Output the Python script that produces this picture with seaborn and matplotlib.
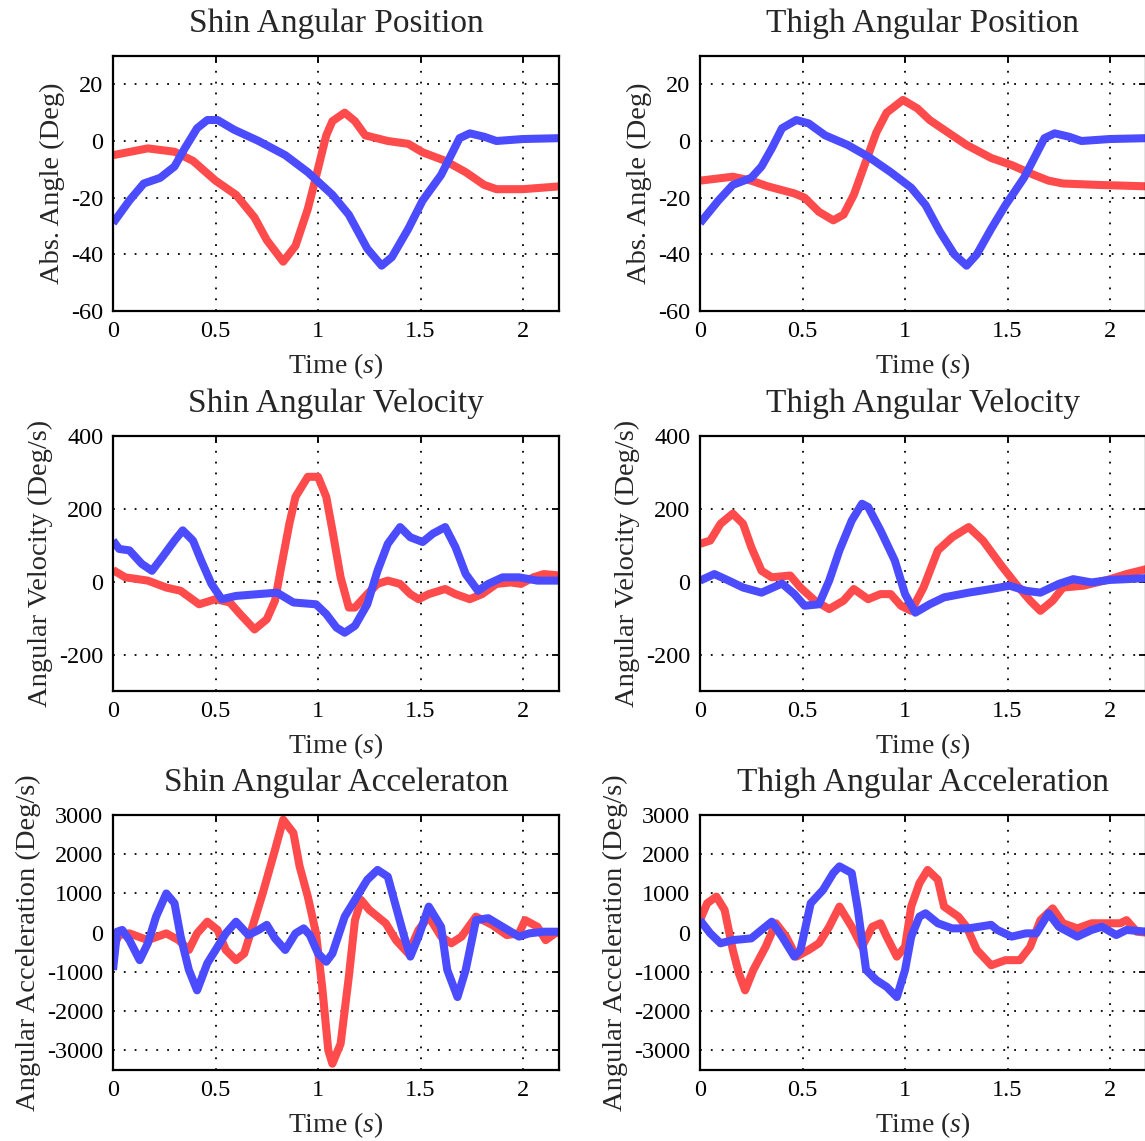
import matplotlib
matplotlib.use("Agg")
import matplotlib.pyplot as plt
import seaborn as sns
import pandas as pd

# ---- Shin angular position (deg) ----
shin_pos_red_t = [0.00, 0.17, 0.30, 0.39, 0.50, 0.60, 0.69, 0.75, 0.83, 0.89, 0.95, 0.98, 1.04, 1.07,
                  1.13, 1.18, 1.23, 1.34, 1.44, 1.51, 1.62, 1.72, 1.81, 1.87, 2.00, 2.18]
shin_pos_red = [-5, -2.6, -3.8, -7, -14, -19, -27, -35, -42.6, -37, -24, -15.5, 2, 7,
                10, 7, 2, 0, -1, -4, -7, -11, -15.5, -17, -17, -16]
shin_pos_blue_t = [0.00, 0.08, 0.15, 0.23, 0.30, 0.35, 0.41, 0.46, 0.51, 0.59, 0.71, 0.84, 0.95, 1.07,
                   1.15, 1.24, 1.31, 1.36, 1.44, 1.51, 1.60, 1.69, 1.74, 1.81, 1.87, 2.00, 2.18]
shin_pos_blue = [-29, -21, -15, -13, -9, -2.6, 4.5, 7.4, 7.4, 4, 0, -5, -11, -19,
                 -26, -38, -44, -41, -31, -21, -12, 1, 2.7, 1.5, 0, 0.7, 1]

# ---- Thigh angular position (deg) ----
thigh_pos_red_t = [0.00, 0.16, 0.25, 0.33, 0.46, 0.51, 0.58, 0.65, 0.70, 0.75, 0.81, 0.86, 0.91, 0.99,
                   1.06, 1.12, 1.23, 1.30, 1.42, 1.52, 1.63, 1.70, 1.77, 1.94, 2.18]
thigh_pos_red = [-14, -12.6, -14, -16, -18.5, -20, -25, -28, -26, -19, -7, 3, 10, 14.5,
                 11.5, 7.4, 2, -1.4, -6, -8.5, -12, -14, -15, -15.5, -16]
thigh_pos_blue_t = [0.00, 0.09, 0.16, 0.25, 0.30, 0.35, 0.40, 0.47, 0.53, 0.61, 0.72, 0.82, 0.93, 1.03,
                    1.10, 1.17, 1.24, 1.30, 1.35, 1.42, 1.49, 1.58, 1.63, 1.68, 1.73, 1.80, 1.86, 2.00, 2.18]
thigh_pos_blue = [-29, -21, -15.5, -13, -9, -2.6, 4.5, 7.4, 6.2, 2, -1.4, -5.5, -11, -16.5,
                  -22.6, -32, -40, -44, -40, -31, -22.6, -13, -6, 1, 2.7, 1.5, 0, 0.7, 1]

# ---- Shin angular velocity (deg/s) ----
shin_vel_red_t = [0.00, 0.06, 0.17, 0.26, 0.33, 0.42, 0.50, 0.57, 0.62, 0.69, 0.75, 0.79, 0.82, 0.86,
                  0.89, 0.95, 1.00, 1.04, 1.07, 1.11, 1.15, 1.18, 1.24, 1.29, 1.34, 1.40, 1.45, 1.49,
                  1.54, 1.62, 1.67, 1.74, 1.80, 1.87, 1.94, 1.99, 2.05, 2.10, 2.18]
shin_vel_red = [32, 12, 3, -16, -25, -62, -48, -57, -89, -131, -103, -52, 40, 159,
                233, 288, 288, 233, 141, 12, -71, -71, -34, -6, 3, -6, -34, -48,
                -34, -20, -34, -48, -34, -6, -2, -6, 12, 21, 17]
shin_vel_blue_t = [0.00, 0.03, 0.08, 0.14, 0.19, 0.24, 0.30, 0.34, 0.39, 0.43, 0.48, 0.53, 0.60, 0.71,
                   0.80, 0.88, 0.99, 1.04, 1.09, 1.13, 1.18, 1.24, 1.29, 1.34, 1.40, 1.45, 1.51, 1.56,
                   1.62, 1.67, 1.72, 1.78, 1.83, 1.90, 1.98, 2.07, 2.18]
shin_vel_blue = [113, 90, 86, 49, 30, 67, 113, 141, 113, 58, -6, -48, -39, -34,
                 -30, -57, -62, -89, -126, -140, -121, -62, 30, 104, 150, 122, 109, 132,
                 150, 95, 21, -25, -6, 12, 12, 3, 3]

# ---- Thigh angular velocity (deg/s) ----
thigh_vel_red_t = [0.00, 0.05, 0.10, 0.16, 0.21, 0.25, 0.30, 0.35, 0.44, 0.49, 0.56, 0.63, 0.70, 0.75,
                   0.82, 0.88, 0.93, 0.98, 1.03, 1.09, 1.16, 1.23, 1.31, 1.38, 1.47, 1.54, 1.61, 1.66,
                   1.72, 1.77, 1.87, 2.00, 2.08, 2.18]
thigh_vel_red = [104, 113, 159, 187, 159, 95, 30, 12, 17, -16, -52, -75, -52, -20,
                 -48, -34, -34, -66, -80, -16, 86, 122, 150, 113, 44, -6, -52, -80,
                 -52, -16, -11, 7, 21, 35]
thigh_vel_blue_t = [0.00, 0.07, 0.14, 0.21, 0.30, 0.40, 0.46, 0.51, 0.58, 0.63, 0.68, 0.74, 0.79, 0.82,
                    0.88, 0.95, 1.00, 1.05, 1.12, 1.19, 1.31, 1.42, 1.51, 1.59, 1.66, 1.75, 1.82, 1.91,
                    2.00, 2.08, 2.18]
thigh_vel_blue = [3, 21, 3, -16, -30, -5, -34, -66, -62, 3, 86, 168, 214, 205,
                  141, 58, -34, -85, -62, -43, -30, -20, -11, -25, -30, -6, 7, -2,
                  5, 7, 10]

# ---- Shin angular acceleration (deg/s^2) ----
shin_acc_red_t = [0.00, 0.03, 0.08, 0.17, 0.26, 0.32, 0.37, 0.41, 0.46, 0.51, 0.55, 0.60, 0.64, 0.68,
                  0.73, 0.79, 0.83, 0.88, 0.91, 0.95, 0.99, 1.02, 1.05, 1.07, 1.11, 1.15, 1.18, 1.21,
                  1.25, 1.33, 1.38, 1.44, 1.49, 1.54, 1.60, 1.65, 1.70, 1.77, 1.85, 1.92, 1.98, 2.01,
                  2.07, 2.11, 2.16, 2.18]
shin_acc_red = [-360, -60, -17, -190, -17, -190, -440, -17, 280, 70, -440, -700, -530, 150,
                1000, 2110, 2880, 2540, 1690, 920, -17, -1380, -3000, -3340, -2830, -1125, 320, 835,
                580, 240, -190, -530, 70, 410, -100, -270, -100, 410, 196, -60, -17, 320,
                150, -190, 0, 0]
shin_acc_blue_t = [0.00, 0.02, 0.045, 0.08, 0.13, 0.17, 0.21, 0.26, 0.30, 0.33, 0.37, 0.41, 0.46, 0.51,
                   0.55, 0.60, 0.66, 0.71, 0.75, 0.79, 0.84, 0.89, 0.93, 0.96, 1.00, 1.04, 1.07, 1.13,
                   1.18, 1.24, 1.29, 1.34, 1.38, 1.42, 1.45, 1.49, 1.54, 1.60, 1.63, 1.68, 1.72, 1.77,
                   1.83, 1.90, 1.98, 2.03, 2.10, 2.18]
shin_acc_blue = [-950, 25, 70, -190, -700, -270, 410, 1000, 750, -100, -950, -1470, -780, -360,
                 -17, 280, -60, 70, 200, -145, -440, -17, 110, -60, -530, -740, -530, 410,
                 835, 1350, 1600, 1430, 665, -100, -610, -100, 665, 150, -950, -1640, -950, 320,
                 370, 150, -100, -17, 25, 25]

# ---- Thigh angular acceleration (deg/s^2) ----
thigh_acc_red_t = [0.00, 0.035, 0.08, 0.12, 0.16, 0.19, 0.22, 0.26, 0.32, 0.37, 0.42, 0.47, 0.53, 0.58,
                   0.63, 0.68, 0.74, 0.79, 0.84, 0.88, 0.91, 0.96, 1.00, 1.03, 1.07, 1.11, 1.16, 1.19,
                   1.26, 1.30, 1.35, 1.42, 1.49, 1.56, 1.61, 1.66, 1.72, 1.77, 1.84, 1.91, 1.98, 2.05,
                   2.08, 2.13, 2.18]
thigh_acc_red = [320, 750, 920, 580, -440, -1040, -1470, -950, -360, 240, -100, -610, -440, -270,
                 150, 665, 150, -360, 150, 240, -100, -610, -360, 665, 1260, 1600, 1350, 665,
                 410, 150, -440, -830, -700, -700, -360, 320, 620, 240, 110, 240, 240, 240,
                 320, 25, 0]
thigh_acc_blue_t = [0.00, 0.05, 0.10, 0.16, 0.25, 0.30, 0.35, 0.40, 0.46, 0.49, 0.54, 0.60, 0.65, 0.68,
                    0.74, 0.77, 0.81, 0.86, 0.91, 0.96, 1.00, 1.03, 1.07, 1.10, 1.16, 1.23, 1.31, 1.42,
                    1.45, 1.52, 1.59, 1.64, 1.70, 1.75, 1.84, 1.91, 1.96, 2.03, 2.08, 2.18]
thigh_acc_blue = [320, -17, -270, -190, -145, 70, 280, -100, -610, -440, 750, 1090, 1520, 1690,
                  1520, 580, -950, -1210, -1380, -1640, -950, -100, 410, 495, 240, 110, 110, 200,
                  70, -100, -17, -17, 495, 150, -100, 70, 150, -60, 70, 25]

titles = ["Shin Angular Position", "Thigh Angular Position",
          "Shin Angular Velocity", "Thigh Angular Velocity",
          "Shin Angular Acceleraton", "Thigh Angular Acceleration"]
ylabels = ["Abs. Angle (Deg)", "Angular Velocity (Deg/s)", "Angular Acceleration (Deg/s)"]
xlabel = "Time ($s$)"
xticks = [0, 0.5, 1, 1.5, 2]
xtick_labels = ["0", "0.5", "1", "1.5", "2"]
yticks_rows = [[-60, -40, -20, 0, 20],
               [-200, 0, 200, 400],
               [-3000, -2000, -1000, 0, 1000, 2000, 3000]]
ylims = [(-60, 30), (-300, 400), (-3500, 3000)]

panels = [
    (shin_pos_red_t, shin_pos_red, shin_pos_blue_t, shin_pos_blue),
    (thigh_pos_red_t, thigh_pos_red, thigh_pos_blue_t, thigh_pos_blue),
    (shin_vel_red_t, shin_vel_red, shin_vel_blue_t, shin_vel_blue),
    (thigh_vel_red_t, thigh_vel_red, thigh_vel_blue_t, thigh_vel_blue),
    (shin_acc_red_t, shin_acc_red, shin_acc_blue_t, shin_acc_blue),
    (thigh_acc_red_t, thigh_acc_red, thigh_acc_blue_t, thigh_acc_blue),
]

RED = "#FF4B4B"
BLUE = "#4B4BFF"

sns.set_style("white")
plt.rcParams["font.family"] = ["Liberation Serif", "DejaVu Serif"]
plt.rcParams["mathtext.fontset"] = "custom"
plt.rcParams["mathtext.it"] = "Liberation Serif:italic"
plt.rcParams["mathtext.rm"] = "Liberation Serif"

W, H = 1145, 1141
fig = plt.figure(figsize=(W / 100, H / 100), dpi=100)
fig.patch.set_facecolor("white")

col_left = [113, 700]
row_top = [56, 436, 815]
ax_w, ax_h = 446, 255

for i, (rt, rv, bt, bv) in enumerate(panels):
    r, c = divmod(i, 2)
    left = col_left[c] / W
    bottom = 1 - (row_top[r] + ax_h) / H
    ax = fig.add_axes([left, bottom, ax_w / W, ax_h / H])
    ax.set_facecolor("white")

    df_red = pd.DataFrame({"t": rt, "v": rv})
    df_blue = pd.DataFrame({"t": bt, "v": bv})
    sns.lineplot(data=df_red, x="t", y="v", ax=ax, color=RED, lw=5.8,
                 sort=False, estimator=None, solid_joinstyle="round", solid_capstyle="butt")
    sns.lineplot(data=df_blue, x="t", y="v", ax=ax, color=BLUE, lw=5.8,
                 sort=False, estimator=None, solid_joinstyle="round", solid_capstyle="butt")

    ax.set_xlim(0, 2.175)
    ax.set_ylim(*ylims[r])
    ax.set_xticks(xticks)
    ax.set_xticklabels(xtick_labels)
    ax.set_yticks(yticks_rows[r])
    ax.set_yticklabels([str(v) for v in yticks_rows[r]])

    ax.grid(True, color="black", linestyle=(0, (1, 5)), linewidth=1.3)
    ax.set_axisbelow(True)
    for sp in ax.spines.values():
        sp.set_visible(True)
        sp.set_color("black")
        sp.set_linewidth(1.6)
    ax.tick_params(direction="in", length=5, width=1.3, top=True, right=True,
                   labelsize=17.5, pad=7, colors="black")

    ax.set_title(titles[i], fontsize=24, pad=17)
    ax.set_xlabel(xlabel, fontsize=20, labelpad=7)
    ax.set_ylabel(ylabels[r], fontsize=20.5, labelpad=4)

fig.savefig("out.png", dpi=100, facecolor="white")
